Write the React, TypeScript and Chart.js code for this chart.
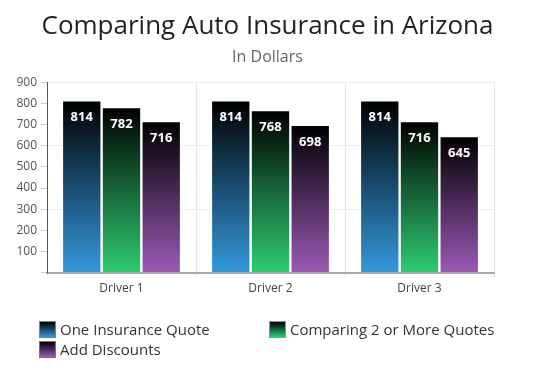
import React, { useEffect, useRef } from "react";
import { Chart, registerables } from "chart.js";

Chart.register(...registerables);

const categories = ["Driver 1", "Driver 2", "Driver 3"];
const seriesNames = ["One Insurance Quote", "Comparing 2 or More Quotes", "Add Discounts"];
const oneQuote = [814, 814, 814];
const comparingQuotes = [782, 768, 716];
const addDiscounts = [716, 698, 645];
const seriesColors = ["#3498db", "#2ecc71", "#9b59b6"];
const yTicks = [0, 100, 200, 300, 400, 500, 600, 700, 800, 900];

const FONT = "'Open Sans', sans-serif";

const barLabelPlugin = {
  id: "barLabels",
  afterDatasetsDraw(chart: any) {
    const c = chart.ctx;
    c.save();
    c.font = `bold 13px ${FONT}`;
    c.fillStyle = "#ffffff";
    c.textAlign = "center";
    c.textBaseline = "middle";
    chart.data.datasets.forEach((ds: any, i: number) => {
      const meta = chart.getDatasetMeta(i);
      meta.data.forEach((bar: any, j: number) => {
        c.fillText(String(ds.data[j]), bar.x, bar.y + 17);
      });
    });
    c.restore();
  },
};

function gradientFill(color: string) {
  return (ctx: any) => {
    const chart = ctx.chart;
    const scales = chart.scales;
    if (!chart.chartArea || ctx.type !== "data" || !scales.y) return color;
    const top = scales.y.getPixelForValue(ctx.raw);
    const bottom = scales.y.getPixelForValue(0);
    const g = chart.ctx.createLinearGradient(0, top, 0, bottom);
    g.addColorStop(0, "#000000");
    g.addColorStop(1, color);
    return g;
  };
}

export default function App() {
  const ref = useRef<HTMLCanvasElement | null>(null);

  useEffect(() => {
    if (!ref.current) return;
    const values = [oneQuote, comparingQuotes, addDiscounts];
    const chart = new Chart(ref.current, {
      type: "bar",
      data: {
        labels: categories,
        datasets: seriesNames.map((name, i) => ({
          label: name,
          data: values[i],
          backgroundColor: gradientFill(seriesColors[i]),
          borderColor: "rgba(255,255,255,0.45)",
          borderWidth: 1,
          barPercentage: 0.99,
          categoryPercentage: 0.8,
        })),
      },
      options: {
        animation: false,
        responsive: false,
        maintainAspectRatio: false,
        layout: { padding: { left: 0, right: 0, top: 0, bottom: 75 } },
        plugins: {
          legend: { display: false },
          tooltip: { enabled: false },
          title: {
            display: true,
            text: "Comparing Auto Insurance in Arizona",
            color: "#222",
            font: { family: FONT, size: 26, weight: "normal" },
            padding: { top: 11, bottom: 6 },
          },
          subtitle: {
            display: true,
            text: "In Dollars",
            color: "#666",
            font: { family: FONT, size: 16, weight: "normal" },
            padding: { top: 0, bottom: 15 },
          },
        },
        scales: {
          x: {
            offset: true,
            grid: {
              display: true,
              offset: true,
              color: "#e6e6e6",
              tickColor: "#e6e6e6",
              tickLength: 5,
            },
            border: { display: true, color: "#aaaaaa", width: 2 },
            ticks: { color: "#444", font: { family: FONT, size: 12 }, padding: 4 },
          },
          y: {
            min: 0,
            max: 900,
            afterFit: (scale: any) => {
              scale.width = 47;
            },
            afterBuildTicks: (scale: any) => {
              scale.ticks = yTicks.map((v) => ({ value: v }));
            },
            grid: {
              color: (ctx: any) =>
                ctx.tick && ctx.tick.value % 300 === 0 && ctx.tick.value !== 0 ? "#ececec" : "rgba(0,0,0,0)",
              tickColor: "#cccccc",
              tickLength: 6,
            },
            border: { display: true, color: "#555555", width: 1 },
            ticks: {
              color: "#555",
              font: { family: FONT, size: 12 },
              padding: 4,
              callback: (v: any) => (v === 0 ? "" : String(v)),
            },
          },
          yRight: {
            position: "right",
            display: true,
            grid: { display: false, drawTicks: false },
            border: { display: false },
            ticks: { display: false },
            afterFit: (scale: any) => {
              scale.width = 41;
            },
          },
        },
      },
      plugins: [barLabelPlugin],
    });
    return () => chart.destroy();
  }, []);

  const legendBox = (color: string) => ({
    display: "inline-block",
    width: 15,
    height: 15,
    border: `1px solid ${color}`,
    background: `linear-gradient(to bottom, #000000, ${color})`,
    marginRight: 4,
    verticalAlign: "middle",
    boxSizing: "content-box" as const,
  });

  const itemStyle = (left: number, top: number) => ({
    position: "absolute" as const,
    left,
    top,
    display: "flex",
    alignItems: "center",
    fontFamily: FONT,
    fontSize: 15,
    color: "#333",
    lineHeight: "17px",
    whiteSpace: "nowrap" as const,
  });

  const legendPos = [
    [39, 321],
    [269, 321],
    [39, 341],
  ];

  return (
    <div style={{ position: "absolute", left: 0, top: 0, width: 535, height: 375, background: "#fff" }}>
      <canvas ref={ref} width={535} height={375} style={{ display: "block" }} />
      {seriesNames.map((name, i) => (
        <div key={name} style={itemStyle(legendPos[i][0], legendPos[i][1])}>
          <span style={legendBox(seriesColors[i])} />
          <span>{name}</span>
        </div>
      ))}
    </div>
  );
}
